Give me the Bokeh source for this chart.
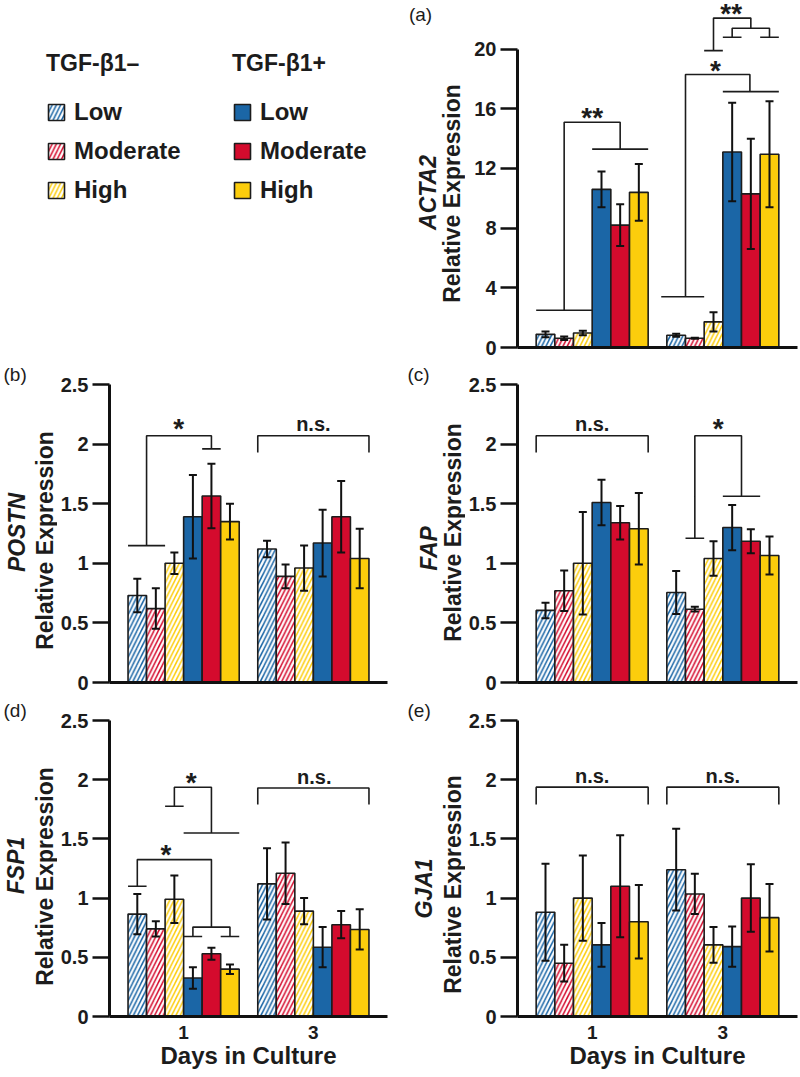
import math
from bokeh.plotting import figure
from bokeh.models import (ColumnDataSource, Range1d, FixedTicker, NumeralTickFormatter,
                          Whisker, TeeHead, Label, Legend, LegendItem)
from bokeh.layouts import row, column
from bokeh.embed import file_html
from bokeh.resources import INLINE

FONT = "Liberation Sans"
INK = "#1c1c1c"
BLUE, RED, YELLOW = "#1b66a6", "#d40b2d", "#fccd0c"
LEVEL_COLORS = [BLUE, RED, YELLOW]

# ---------------- data ----------------
days = ["1", "3"]
levels = ["Low", "Moderate", "High"]
treatments = ["TGF-\u03b21\u2013", "TGF-\u03b21+"]

# order in every list: day 1 (Low, Moderate, High), day 3 (Low, Moderate, High)
acta2_minus = [0.88, 0.62, 0.97, 0.82, 0.62, 1.72]
acta2_minus_sd = [0.20, 0.12, 0.15, 0.10, 0.04, 0.65]
acta2_plus = [10.6, 8.2, 10.4, 13.1, 10.3, 12.95]
acta2_plus_sd = [1.2, 1.4, 1.9, 3.3, 3.7, 3.55]

postn_minus = [0.73, 0.62, 1.00, 1.12, 0.89, 0.96]
postn_minus_sd = [0.14, 0.17, 0.09, 0.07, 0.10, 0.19]
postn_plus = [1.39, 1.565, 1.35, 1.17, 1.39, 1.04]
postn_plus_sd = [0.35, 0.27, 0.15, 0.28, 0.30, 0.25]

fap_minus = [0.605, 0.77, 1.00, 0.755, 0.615, 1.04]
fap_minus_sd = [0.065, 0.17, 0.43, 0.18, 0.02, 0.145]
fap_plus = [1.51, 1.34, 1.29, 1.30, 1.185, 1.065]
fap_plus_sd = [0.19, 0.14, 0.30, 0.19, 0.10, 0.16]

fsp1_minus = [0.865, 0.74, 0.99, 1.12, 1.21, 0.89]
fsp1_minus_sd = [0.17, 0.065, 0.20, 0.30, 0.26, 0.11]
fsp1_plus = [0.325, 0.53, 0.40, 0.585, 0.775, 0.735]
fsp1_plus_sd = [0.09, 0.05, 0.04, 0.17, 0.115, 0.17]

gja1_minus = [0.88, 0.45, 1.00, 1.24, 1.035, 0.605]
gja1_minus_sd = [0.41, 0.155, 0.36, 0.345, 0.17, 0.15]
gja1_plus = [0.605, 1.10, 0.80, 0.59, 1.00, 0.835]
gja1_plus_sd = [0.185, 0.43, 0.31, 0.17, 0.285, 0.285]

# significance brackets (x in bar-slot units: bar k of a day group spans [7*day+k, 7*day+k+1])
acta2_brackets = [
    [(0, 2.5), (3, 2.5)], [(1.5, 2.5), (1.5, 15.1), (4.5, 15.1), (4.5, 13.3)], [(3, 13.3), (6, 13.3)],
    [(6.7, 3.4), (9, 3.4)], [(8, 3.4), (8, 18.3), (11.45, 18.3), (11.45, 17.15)], [(10, 17.15), (13, 17.15)],
    [(9, 19.9), (10, 19.9)], [(9.5, 19.9), (9.5, 22.08), (11.5, 22.08), (11.5, 21.4)],
    [(10.5, 20.8), (10.5, 21.4), (12.5, 21.4), (12.5, 20.8)], [(10, 20.8), (11, 20.8)], [(12, 20.8), (13, 20.8)],
]
acta2_marks = [("**", 3.0, 15.64), ("*", 9.6, 18.77), ("**", 10.45, 22.57)]

postn_brackets = [
    [(0, 1.148), (2, 1.148)], [(1, 1.148), (1, 2.07), (4.5, 2.07), (4.5, 1.96)], [(4, 1.96), (5, 1.96)],
    [(7, 1.93), (7, 2.07), (13, 2.07), (13, 1.93)],
]
postn_marks = [("*", 2.74, 2.156), ("n.s.", 10.0, 2.14)]

fap_brackets = [
    [(0, 1.93), (0, 2.07), (6, 2.07), (6, 1.93)],
    [(8, 1.21), (9, 1.21)], [(8.5, 1.21), (8.5, 2.07), (11, 2.07), (11, 1.5625)], [(10, 1.5625), (12, 1.5625)],
]
fap_marks = [("n.s.", 3.0, 2.14), ("*", 9.75, 2.154)]

fsp1_brackets = [
    [(0, 1.1), (1, 1.1)], [(0.5, 1.1), (0.5, 1.325), (4.5, 1.325), (4.5, 0.755)],
    [(3.5, 0.676), (3.5, 0.755), (5.5, 0.755), (5.5, 0.676)], [(3, 0.676), (4, 0.676)], [(5, 0.676), (6, 0.676)],
    [(2, 1.776), (3, 1.776)], [(2.5, 1.776), (2.5, 1.936), (4.5, 1.936), (4.5, 1.55)], [(3, 1.55), (6, 1.55)],
    [(7, 1.79), (7, 1.93), (13, 1.93), (13, 1.79)],
]
fsp1_marks = [("*", 2.05, 1.395), ("*", 3.41, 2.0), ("n.s.", 10.05, 2.0)]

gja1_brackets = [
    [(0, 1.79), (0, 1.937), (6, 1.937), (6, 1.79)],
    [(7, 1.79), (7, 1.937), (13, 1.937), (13, 1.79)],
]
gja1_marks = [("n.s.", 3.0, 2.007), ("n.s.", 10.0, 2.007)]


# ---------------- helpers ----------------
def make_panel(width, height, borders, y_end, y_step, y_top, show_days):
    left, right, top, bottom = borders
    p = figure(width=width, height=height, x_range=Range1d(-1, 14), y_range=Range1d(0, y_end),
               toolbar_location=None, output_backend="svg",
               min_border_left=left, min_border_right=right,
               min_border_top=top, min_border_bottom=bottom)
    p.xgrid.visible = False
    p.ygrid.visible = False
    p.outline_line_color = None
    ya = p.yaxis[0]
    nt = int(round(y_top / y_step))
    ya.ticker = FixedTicker(ticks=[k * y_step for k in range(nt + 1)])
    ya.formatter = NumeralTickFormatter(format="0.[0]")
    ya.bounds = (0, y_top)
    ya.axis_line_width = 3
    ya.axis_line_color = "#111111"
    ya.major_tick_line_width = 2.5
    ya.major_tick_line_color = "#111111"
    ya.major_tick_out = 17
    ya.major_tick_in = 0
    ya.minor_tick_line_color = None
    ya.major_label_standoff = 4
    ya.major_label_text_font = FONT
    ya.major_label_text_font_style = "bold"
    ya.major_label_text_font_size = "20px"
    ya.major_label_text_color = INK

    xa = p.xaxis[0]
    xa.axis_line_width = 3
    xa.axis_line_color = "#111111"
    xa.major_tick_line_color = None
    xa.minor_tick_line_color = None
    xa.major_tick_out = 0
    xa.major_tick_in = 0
    if show_days:
        xa.ticker = FixedTicker(ticks=[3, 10])
        xa.major_label_overrides = {3: days[0], 10: days[1]}
        xa.major_label_standoff = 9
        xa.major_label_text_font = FONT
        xa.major_label_text_font_style = "bold"
        xa.major_label_text_font_size = "19px"
        xa.major_label_text_color = INK
        xa.axis_label = "Days in Culture"
        xa.axis_label_standoff = 0
        xa.axis_label_text_font = FONT
        xa.axis_label_text_font_style = "bold"
        xa.axis_label_text_font_size = "24px"
        xa.axis_label_text_color = INK
    else:
        xa.ticker = FixedTicker(ticks=[])
        xa.major_label_standoff = 0
    return p


def bar_style(p, t, i, kw):
    if t == 0:
        return p.vbar(fill_color="white", hatch_pattern="/", hatch_color=LEVEL_COLORS[i],
                      hatch_scale=8.5, hatch_weight=1.5, line_color=INK, line_width=1.6, **kw)
    return p.vbar(fill_color=LEVEL_COLORS[i], line_color=INK, line_width=1.6, **kw)


def draw_bars(p, minus, minus_sd, plus, plus_sd):
    for t, (means, sds) in enumerate([(minus, minus_sd), (plus, plus_sd)]):
        for i, lvl in enumerate(levels):
            xs = [7 * g + 3 * t + i + 0.5 for g in range(len(days))]
            tops = [means[3 * g + i] for g in range(len(days))]
            errs = [sds[3 * g + i] for g in range(len(days))]
            src = ColumnDataSource(dict(x=xs, top=tops,
                                        upper=[a + b for a, b in zip(tops, errs)],
                                        lower=[a - b for a, b in zip(tops, errs)]))
            bar_style(p, t, i, dict(x="x", top="top", width=1, source=src))
            w = Whisker(source=src, base="x", upper="upper", lower="lower",
                        line_width=2, line_color="#111111", level="overlay",
                        upper_head=TeeHead(size=8, line_width=2, line_color="#111111"),
                        lower_head=TeeHead(size=8, line_width=2, line_color="#111111"))
            p.add_layout(w)


def draw_brackets(p, paths, marks):
    p.multi_line(xs=[[pt[0] for pt in path] for path in paths],
                 ys=[[pt[1] for pt in path] for path in paths],
                 line_color=INK, line_width=1.6)
    for text, x, y in marks:
        star = "*" in text
        size = 28 if star else 20
        off = -3 if star else 3
        p.add_layout(Label(x=x, y=y, text=text, text_align="center", text_baseline="alphabetic",
                           y_offset=off, text_font=FONT, text_font_style="bold",
                           text_font_size=f"{size}px", text_color=INK))


def lead_fig(width, height, letter=None, letter_dx=0):
    # text strip left of a panel; its frame gets aligned with the panel's frame in the row
    p = figure(width=width, height=height, x_range=Range1d(0, 1), y_range=Range1d(0, 1),
               x_axis_type=None, y_axis_type=None, toolbar_location=None,
               output_backend="svg", min_border=0, title=letter)
    p.outline_line_color = None
    if letter:
        p.title.align = "left"
        p.title.offset = letter_dx
        p.title.standoff = 0
        p.title.vertical_align = "bottom"
        p.title.text_font = FONT
        p.title.text_font_style = "normal"
        p.title.text_font_size = "19px"
        p.title.text_color = INK
    return p


def put_text(p, origin, text, px, py, size, style="bold", angle=0.0):
    left, bottom = origin  # page position of the figure frame's left / bottom edge
    p.add_layout(Label(x=px - left, y=bottom - py, x_units="screen", y_units="screen", text=text,
                       angle=angle, text_align="center", text_baseline="middle",
                       text_font=FONT, text_font_style=style, text_font_size=f"{size}px",
                       text_color=INK))


def y_titles(p, origin, gene, gpos, rpos):
    put_text(p, origin, gene, gpos[0], gpos[1], 23, "bold italic", math.pi / 2)
    put_text(p, origin, "Relative Expression", rpos[0], rpos[1], 23, "bold", math.pi / 2)


# ---------------- row 1: legend + (a) ----------------
lead_a = lead_fig(465, 359)
oa = (0, 347)
y_titles(lead_a, oa, "ACTA2", (427, 192), (451, 193))
put_text(lead_a, oa, "(a)", 420, 14, 19, "normal")
for t, lx in enumerate([46, 232]):
    # legend-only renderers: a degenerate (zero-size) bar so that nothing is drawn
    rs = [bar_style(lead_a, t, i, dict(x=[0.5], top=[0.5], bottom=[0.5], width=0.0))
          for i in range(3)]
    lg = Legend(items=[LegendItem(label=levels[i], renderers=[rs[i]]) for i in range(3)],
                title=treatments[t], location=(lx, 143), orientation="vertical",
                padding=0, margin=0, spacing=11, glyph_width=20, glyph_height=20,
                label_standoff=8, title_standoff=21,
                label_text_font=FONT, label_text_font_style="bold", label_text_font_size="24px",
                label_text_color=INK,
                title_text_font=FONT, title_text_font_style="bold", title_text_font_size="23px",
                title_text_color=INK,
                border_line_color=None, background_fill_alpha=0)
    lead_a.add_layout(lg)

pa = make_panel(335, 359, (52, 3, 0, 12), 23.26, 4, 20, False)
draw_bars(pa, acta2_minus, acta2_minus_sd, acta2_plus, acta2_plus_sd)
draw_brackets(pa, acta2_brackets, acta2_marks)

# ---------------- row 2: (b) POSTN, (c) FAP ----------------
lead_b = lead_fig(57, 335, "(b)", 3)
y_titles(lead_b, (0, 682), "POSTN", (16, 532), (44, 540))
pb = make_panel(343, 335, (50, 13, 25, 12), 2.5, 0.5, 2.5, False)
draw_bars(pb, postn_minus, postn_minus_sd, postn_plus, postn_plus_sd)
draw_brackets(pb, postn_brackets, postn_marks)

lead_c = lead_fig(65, 335, "(c)", 7)
y_titles(lead_c, (400, 682), "FAP", (428, 548), (452, 532))
pc = make_panel(335, 335, (52, 3, 25, 12), 2.5, 0.5, 2.5, False)
draw_bars(pc, fap_minus, fap_minus_sd, fap_plus, fap_plus_sd)
draw_brackets(pc, fap_brackets, fap_marks)

# ---------------- row 3: (d) FSP1, (e) GJA1 ----------------
lead_d = lead_fig(57, 382, "(d)", 3)
y_titles(lead_d, (0, 1016), "FSP1", (15, 865), (44, 876))
pd_ = make_panel(343, 382, (50, 13, 26, 60), 2.5, 0.5, 2.5, True)
draw_bars(pd_, fsp1_minus, fsp1_minus_sd, fsp1_plus, fsp1_plus_sd)
draw_brackets(pd_, fsp1_brackets, fsp1_marks)

lead_e = lead_fig(65, 382, "(e)", 7)
y_titles(lead_e, (400, 1016), "GJA1", (423, 888), (452, 884))
pe = make_panel(335, 382, (52, 3, 26, 60), 2.5, 0.5, 2.5, True)
draw_bars(pe, gja1_minus, gja1_minus_sd, gja1_plus, gja1_plus_sd)
draw_brackets(pe, gja1_brackets, gja1_marks)

layout = column(row(lead_a, pa), row(lead_b, pb, lead_c, pc), row(lead_d, pd_, lead_e, pe))
open("out.html", "w").write(file_html(layout, INLINE))
